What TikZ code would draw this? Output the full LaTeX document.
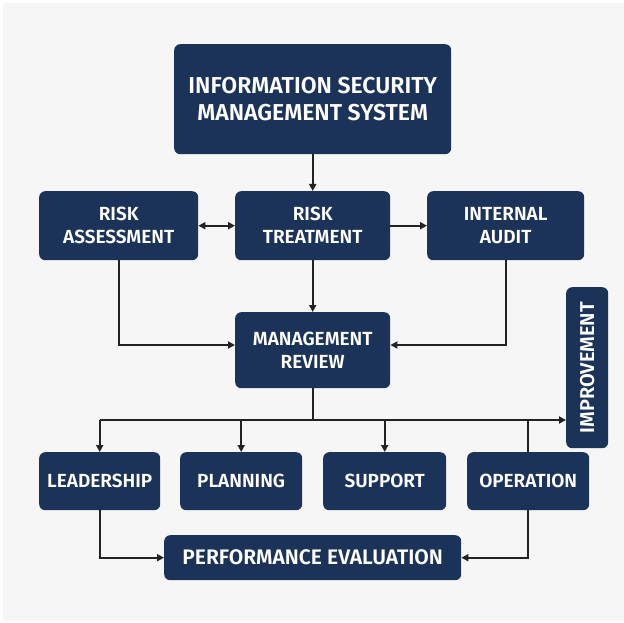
\documentclass[tikz,border=0pt]{standalone}
\usepackage{fontspec}
\setmainfont{Fira Sans}[BoldFont={Fira Sans SemiBold}]
\usetikzlibrary{arrows.meta,positioning}
\definecolor{navy}{HTML}{1B3358}
\definecolor{bg}{HTML}{F6F6F6}
\definecolor{ln}{HTML}{222222}
\tikzset{
  box/.style={fill=navy, rounded corners=6pt, text=white, font=\bfseries\fontsize{19}{23}\selectfont, align=center, inner sep=0pt, anchor=north west},
  conn/.style={draw=ln, line width=1.8pt, -{Triangle[length=7pt,width=7pt]}},
  plain/.style={draw=ln, line width=1.8pt}
}
\begin{document}
\begin{tikzpicture}[x=1pt,y=-1pt]
\useasboundingbox (0,0) rectangle (624,623);
\fill[white] (0,0) rectangle (624,623);
\fill[bg] (3,3) rectangle (624,621);
% boxes
\node[box, minimum width=277pt, minimum height=110pt, font=\bfseries\fontsize{23}{27}\selectfont] (isms) at (174,44) {INFORMATION SECURITY\\MANAGEMENT SYSTEM};
\node[box, minimum width=159pt, minimum height=69pt] (ra) at (39,191) {RISK\\ASSESSMENT};
\node[box, minimum width=155pt, minimum height=69pt] (rt) at (235,191) {RISK\\TREATMENT};
\node[box, minimum width=157pt, minimum height=69pt] (ia) at (427,191) {INTERNAL\\AUDIT};
\node[box, minimum width=155pt, minimum height=76pt] (mr) at (235,312) {MANAGEMENT\\REVIEW};
\node[box, minimum width=42pt, minimum height=161pt] (imp) at (566,287) {};
\node[text=white, font=\bfseries\fontsize{20}{24}\selectfont, rotate=90] (impt) at (imp.center) {IMPROVEMENT};
\node[box, minimum width=121pt, minimum height=58pt] (ld) at (39,452) {LEADERSHIP};
\node[box, minimum width=122pt, minimum height=58pt] (pl) at (180,452) {PLANNING};
\node[box, minimum width=123pt, minimum height=58pt] (su) at (323,452) {SUPPORT};
\node[box, minimum width=122pt, minimum height=58pt] (op) at (467,452) {OPERATION};
\node[box, minimum width=297pt, minimum height=45pt, font=\bfseries\fontsize{21}{25}\selectfont] (pe) at (164,535) {PERFORMANCE EVALUATION};
% connectors
\coordinate (hub) at (mr.south |- 0,420);
\draw[conn] (isms.south) -- (rt.north);
\draw[conn, {Triangle[length=7pt,width=7pt]}-{Triangle[length=7pt,width=7pt]}] (ra.east) -- (rt.west);
\draw[conn] (rt.east) -- (ia.west);
\draw[conn] (rt.south) -- (mr.north);
\draw[conn] (ra.south) |- (mr.west |- 0,345);
\draw[conn] (ia.south) |- (mr.east |- 0,345);
\draw[plain] (mr.south) -- (hub);
\draw[conn] (ld.north |- hub) -- (ld.north);
\draw[conn] (pl.north |- hub) -- (pl.north);
\draw[conn] (su.north |- hub) -- (su.north);
\draw[conn] (ld.north |- hub) -- (imp.west |- hub);
\draw[plain] (op.north) -- (op.north |- hub);
\draw[conn] (ld.south) |- (pe.west);
\draw[conn] (op.south) |- (pe.east);
\end{tikzpicture}
\end{document}
